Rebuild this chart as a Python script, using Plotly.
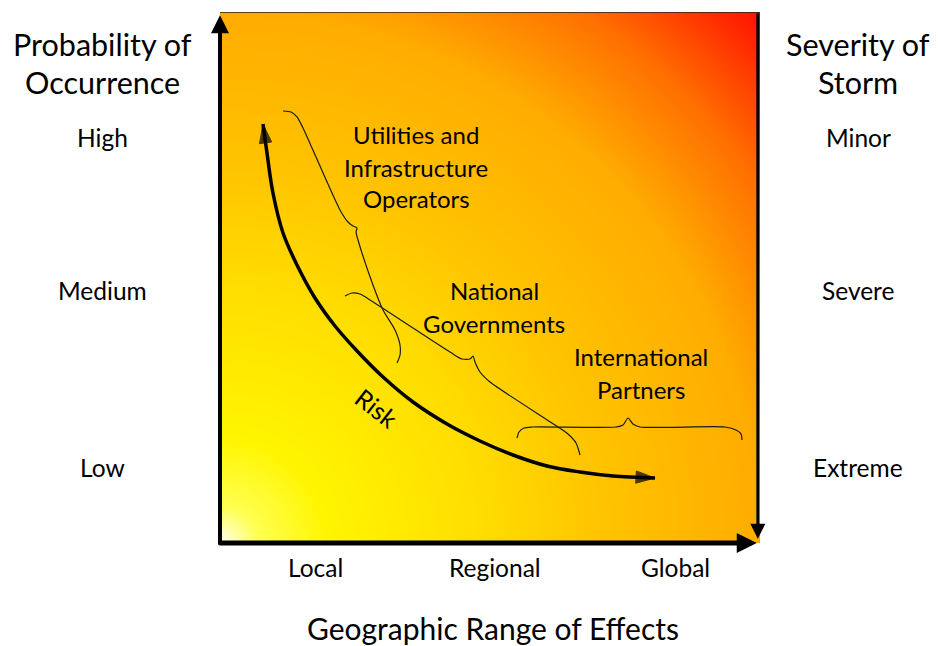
import numpy as np
import plotly.graph_objects as go

FONT = "Lato"

# ---- data (chart units 0-100 on both axes) ----
x_tick_labels = ["Local", "Regional", "Global"]
x_tick_pos = [17.6, 50.9, 84.3]
left_labels = ["High", "Medium", "Low"]
right_labels = ["Minor", "Severe", "Extreme"]
y_tick_pos = [76.3, 47.5, 14.3]
left_title = ["Probability of", "Occurrence"]
right_title = ["Severity of", "Storm"]
x_title = "Geographic Range of Effects"

risk_x = [7.96, 8.70, 9.81, 11.67, 14.26, 17.59, 21.30, 25.56, 30.19, 35.74, 42.04, 48.15, 54.26, 60.56, 66.67, 72.78, 80.56]
risk_y = [78.91, 73.45, 65.91, 58.38, 52.35, 46.14, 40.87, 35.97, 31.26, 26.55, 22.41, 19.21, 16.57, 14.50, 13.37, 12.62, 12.24]

brace1_x = [11.67, 13.15, 14.26, 15.37, 22.22, 23.70, 24.63, 25.37, 25.19, 25.56, 28.33, 30.19, 32.41, 33.33, 33.33, 32.78]
brace1_y = [81.36, 81.17, 80.23, 78.15, 62.71, 60.45, 59.70, 59.32, 58.57, 57.06, 48.59, 43.88, 40.11, 37.29, 35.40, 33.90]
brace2_x = [23.15, 24.44, 25.93, 27.78, 42.59, 44.81, 46.30, 46.85, 47.22, 48.15, 50.00, 62.04, 64.44, 65.93, 66.67]
brace2_y = [46.52, 47.08, 46.89, 45.76, 35.97, 34.65, 34.65, 35.22, 34.09, 32.20, 30.32, 22.22, 20.53, 18.83, 16.57]
brace3_x = [55.00, 55.37, 56.30, 57.78, 73.33, 74.63, 75.56, 76.48, 77.78, 93.52, 95.56, 96.48, 96.67]
brace3_y = [19.77, 20.90, 21.66, 21.85, 21.85, 22.22, 23.54, 22.41, 21.85, 21.85, 21.28, 20.53, 19.40]

group_lines = [
    (["Utilities and", "Infrastructure", "Operators"], 36.3, [76.84, 70.81, 64.97]),
    (["National", "Governments"], 50.74, [47.46, 41.43]),
    (["International", "Partners"], 77.96, [35.03, 29.00]),
]

# ---- background gradient (decorative) ----
n = 160
gx = np.linspace(0, 100, n)
gy = np.linspace(0, 100, n)
GX, GY = np.meshgrid(gx, gy)
bg = np.sqrt(GX ** 2 + GY ** 2) / (100 * np.sqrt(2))
bg_scale = [
    [0.0, "#FFFFF0"],
    [0.05, "#FFFF50"],
    [0.14, "#FFF500"],
    [0.35, "#FFDC00"],
    [0.5, "#FFC400"],
    [0.707, "#FFAC00"],
    [0.85, "#FF7000"],
    [1.0, "#FF1000"],
]

fig = go.Figure()
fig.add_trace(go.Heatmap(x=gx, y=gy, z=bg, colorscale=bg_scale, showscale=False,
                         zsmooth="best", hoverinfo="skip", zmin=0, zmax=1))

for bx, by in [(brace1_x, brace1_y), (brace2_x, brace2_y), (brace3_x, brace3_y)]:
    fig.add_trace(go.Scatter(x=bx, y=by, mode="lines",
                             line=dict(color="#1a1a1a", width=1.2, shape="spline", smoothing=0.7),
                             hoverinfo="skip", showlegend=False))

fig.add_trace(go.Scatter(x=risk_x, y=risk_y, mode="lines",
                         line=dict(color="black", width=3.5, shape="spline", smoothing=1.0),
                         hoverinfo="skip", showlegend=False))
# arrow heads at both ends of the risk curve
for i0, i1 in [(1, 0), (-2, -1)]:
    fig.add_trace(go.Scatter(x=[risk_x[i0], risk_x[i1]], y=[risk_y[i0], risk_y[i1]], mode="markers",
                             marker=dict(symbol="arrow", size=[0, 20], angleref="previous", color="black",
                                         line=dict(color="black", width=1)),
                             hoverinfo="skip", showlegend=False))

ann = []
# axes with arrows
ann.append(dict(x=0, y=99.4, ax=0, ay=-0.6, xref="x", yref="y", axref="x", ayref="y", text="",
                showarrow=True, arrowhead=2, arrowsize=0.9, arrowwidth=4, arrowcolor="black"))
ann.append(dict(x=99.4, y=0, ax=-0.4, ay=0, xref="x", yref="y", axref="x", ayref="y", text="",
                showarrow=True, arrowhead=2, arrowsize=0.8, arrowwidth=5, arrowcolor="black"))
ann.append(dict(x=99.6, y=0.8, ax=99.6, ay=100, xref="x", yref="y", axref="x", ayref="y", text="",
                showarrow=True, arrowhead=2, arrowsize=1.0, arrowwidth=3, arrowcolor="black"))

def txt(x, y, t, size, xref="x", yref="y", angle=0):
    return dict(x=x, y=y, xref=xref, yref=yref, text=t, showarrow=False, textangle=angle,
                xanchor="center", yanchor="middle", borderpad=0,
                font=dict(family=FONT, size=size, color="black"))

for lines, cx, ys in group_lines:
    for t, yy in zip(lines, ys):
        ann.append(txt(cx, yy, t, 24))

ann.append(txt(29.07, 25.42, "Risk", 25, angle=38))

for t, xp in zip(x_tick_labels, x_tick_pos):
    ann.append(txt(xp, -0.047, t, 24.5, yref="paper"))
for t, yp in zip(left_labels, y_tick_pos):
    ann.append(txt(-0.2167, yp, t, 24.5, xref="paper"))
for t, yp in zip(right_labels, y_tick_pos):
    ann.append(txt(1.1815, yp, t, 24.5, xref="paper"))
for t, yp in zip(left_title, [0.9397, 0.868]):
    ann.append(txt(-0.2167, yp, t, 30.5, xref="paper", yref="paper"))
for t, yp in zip(right_title, [0.9397, 0.868]):
    ann.append(txt(1.1815, yp, t, 30.5, xref="paper", yref="paper"))
ann.append(txt(0.5056, -0.160, x_title, 30, xref="paper", yref="paper"))

fig.update_layout(
    width=930, height=638,
    margin=dict(l=212, r=178, t=4, b=103),
    paper_bgcolor="white", plot_bgcolor="white",
    xaxis=dict(range=[0, 100], visible=False, fixedrange=True),
    yaxis=dict(range=[0, 100], visible=False, fixedrange=True),
    annotations=ann,
    shapes=[dict(type="line", xref="x", yref="y", x0=0, x1=100, y0=100, y1=100,
                 line=dict(color="#222222", width=1.5))],
    showlegend=False,
)

fig.write_html("out.html")
